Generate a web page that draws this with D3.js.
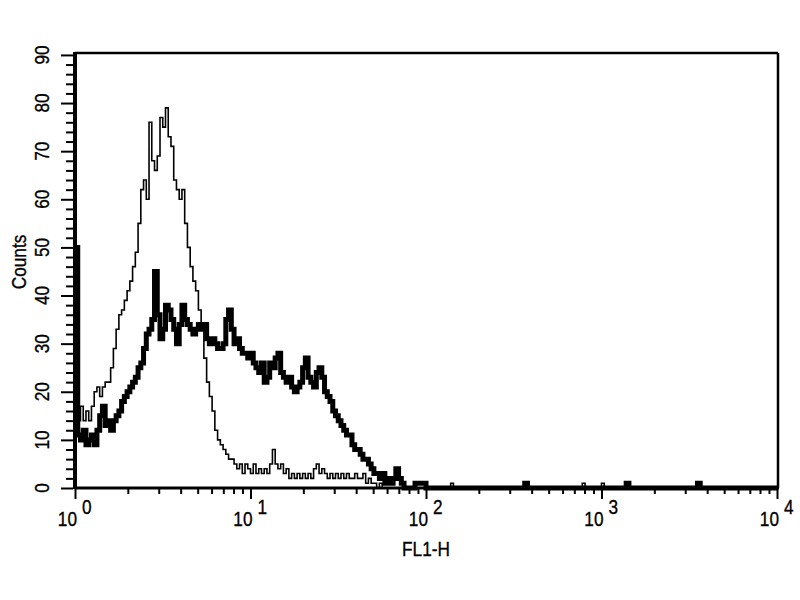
<!DOCTYPE html>
<html>
<head>
<meta charset="utf-8">
<script src="https://cdn.jsdelivr.net/npm/d3@7"></script>
<style>
  html, body { margin: 0; padding: 0; background: #fff; }
  svg text { font-family: "Liberation Sans", Arial, Helvetica, sans-serif; fill: #000; stroke: #000; stroke-width: 0.35px; }
</style>
</head>
<body>
<svg id="chart" width="800" height="600"></svg>
<script>
// ---- data (256-channel log histogram, 64 channels per decade) ----
const channelsPerDecade = 64;
const totalChannels = 256;
const xTickDecades = [0, 1, 2, 3, 4];
const yTickValues = [0, 10, 20, 30, 40, 50, 60, 70, 80, 90];
const xLabel = "FL1-H";
const yLabel = "Counts";

// control (thin line), channels 0..111
const thinCounts = [
  16, 14, 17, 14, 16, 14, 17, 20, 21, 19,
  21, 22, 22, 25, 29, 33, 36, 37, 39, 41,
  43, 46, 49, 55, 62, 64, 60, 76, 68, 66,
  69, 77, 75, 79, 73, 71, 64, 62, 60, 62,
  55, 50, 46, 43, 41, 37, 33, 27, 22, 19,
  16, 12, 10, 9, 8, 7, 6, 6, 5, 4,
  5, 3, 5, 4, 3, 5, 3, 4, 3, 4,
  3, 5, 8, 5, 4, 5, 3, 4, 2, 3,
  2, 3, 2, 3, 2, 3, 2, 4, 5, 3,
  4, 3, 2, 3, 2, 3, 2, 3, 2, 3,
  2, 2, 3, 2, 2, 3, 1, 2, 1, 1,
  0, 1
];
// sparse single events further out: [channel, count]
const thinTail = [[137, 1], [185, 1], [192, 1]];

// stained sample (thick line), channels 0..127
const thickCounts = [
  50, 11, 10, 12, 9, 10, 11, 9, 12, 15,
  17, 13, 14, 12, 14, 15, 16, 18, 19, 20,
  21, 22, 23, 25, 26, 29, 32, 33, 35, 45,
  36, 31, 33, 38, 37, 35, 33, 30, 34, 38,
  35, 34, 33, 32, 33, 34, 33, 34, 31, 30,
  31, 30, 29, 29, 30, 35, 37, 33, 30, 31,
  29, 28, 28, 27, 28, 26, 25, 24, 26, 22,
  23, 26, 25, 27, 28, 24, 23, 22, 23, 21,
  20, 21, 22, 25, 27, 23, 22, 21, 24, 25,
  23, 20, 19, 18, 16, 15, 14, 13, 12, 11,
  11, 9, 8, 8, 7, 6, 6, 5, 4, 3,
  3, 2, 3, 1, 2, 1, 2, 4, 2, 1,
  0, 0, 0, 0, 1, 1, 1, 1
];
const thickTail = [[164, 1], [201, 1], [227, 1]];

// ---- build full histograms ----
function fullHist(counts, tail) {
  const h = new Array(totalChannels).fill(0);
  counts.forEach((v, i) => { h[i] = v; });
  tail.forEach(([c, v]) => { h[c] = v; });
  return h;
}
const thinHist = fullHist(thinCounts, thinTail);
const thickHist = fullHist(thickCounts, thickTail);

// ---- layout ----
const svg = d3.select("#chart");
const plot = { left: 75, right: 777, top: 53, bottom: 488 };
const fs = 21, squeeze = 0.82;

const x = d3.scaleLog().domain([1, 10000]).range([plot.left, plot.right]);
const y = d3.scaleLinear().domain([0, 90.4]).range([plot.bottom, plot.top]);

const edge = c => Math.pow(10, c / channelsPerDecade);

function histPoints(h) {
  const pts = h.map((v, c) => [x(edge(c)), y(v)]);
  pts.push([x(edge(totalChannels)), y(h[h.length - 1])]);
  return pts;
}

const line = d3.line().curve(d3.curveStepAfter);

// thin control
svg.append("path")
  .attr("d", line(histPoints(thinHist)))
  .attr("fill", "none")
  .attr("stroke", "#000")
  .attr("stroke-width", 1.6)
  .attr("stroke-linejoin", "miter");

// thick sample
svg.append("path")
  .attr("d", line(histPoints(thickHist)))
  .attr("fill", "none")
  .attr("stroke", "#000")
  .attr("stroke-width", 5)
  .attr("stroke-linejoin", "miter");

// ---- frame ----
svg.append("line").attr("x1", plot.left).attr("x2", plot.right + 1)
  .attr("y1", plot.top).attr("y2", plot.top).attr("stroke", "#000").attr("stroke-width", 2.5);
svg.append("line").attr("x1", plot.right + 1).attr("x2", plot.right + 1)
  .attr("y1", plot.top).attr("y2", plot.bottom).attr("stroke", "#000").attr("stroke-width", 2.5);
svg.append("line").attr("x1", plot.left).attr("x2", plot.left)
  .attr("y1", plot.top - 1).attr("y2", plot.bottom + 1).attr("stroke", "#000").attr("stroke-width", 4);
svg.append("line").attr("x1", plot.left).attr("x2", plot.right + 2)
  .attr("y1", plot.bottom).attr("y2", plot.bottom).attr("stroke", "#000").attr("stroke-width", 3);

// ---- y axis ticks ----
const yMinor = d3.range(0, 91, 2).filter(v => v % 10 !== 0);
function styleAxis(g) {
  g.select(".domain").remove();
  g.selectAll(".tick line").attr("stroke", "#000").attr("stroke-width", 2);
  g.selectAll(".tick text").remove();
}
svg.append("g").attr("transform", `translate(${plot.left - 2},0)`)
  .call(d3.axisLeft(y).tickValues(yTickValues).tickSize(12).tickFormat(""))
  .call(styleAxis);
svg.append("g").attr("transform", `translate(${plot.left - 2},0)`)
  .call(d3.axisLeft(y).tickValues(yMinor).tickSize(7).tickFormat(""))
  .call(styleAxis);

svg.append("g").selectAll("text").data(yTickValues).join("text")
  .attr("transform", d => `translate(49,${y(d)}) rotate(-90) scale(${squeeze},1)`)
  .attr("text-anchor", "middle")
  .attr("font-size", fs)
  .text(d => d);

// ---- x axis ticks ----
const xMajor = xTickDecades.map(d => Math.pow(10, d));
const xMinor = [];
xTickDecades.slice(0, -1).forEach(d => {
  for (let k = 2; k <= 9; k++) xMinor.push(k * Math.pow(10, d));
});
svg.append("g").attr("transform", `translate(0,${plot.bottom + 1})`)
  .call(d3.axisBottom(x).tickValues(xMajor).tickSize(10).tickFormat(""))
  .call(styleAxis);
svg.append("g").attr("transform", `translate(0,${plot.bottom + 1})`)
  .call(d3.axisBottom(x).tickValues(xMinor).tickSize(5).tickFormat(""))
  .call(styleAxis);

const xl = svg.append("g").selectAll("g").data(xTickDecades).join("g")
  .attr("transform", d => `translate(${x(Math.pow(10, d))},0)`);
xl.append("text")
  .attr("transform", `translate(2,526) scale(${squeeze},1)`)
  .attr("text-anchor", "end")
  .attr("font-size", fs)
  .text("10");
xl.append("text")
  .attr("transform", `translate(7,514) scale(${squeeze},1)`)
  .attr("text-anchor", "start")
  .attr("font-size", fs)
  .text(d => d);

// ---- axis titles ----
svg.append("text")
  .attr("transform", `translate(426,556) scale(${squeeze},1)`)
  .attr("text-anchor", "middle")
  .attr("font-size", fs)
  .text(xLabel);
svg.append("text")
  .attr("transform", `translate(26,262) rotate(-90) scale(${squeeze},1)`)
  .attr("text-anchor", "middle")
  .attr("font-size", fs)
  .text(yLabel);
</script>
</body>
</html>
